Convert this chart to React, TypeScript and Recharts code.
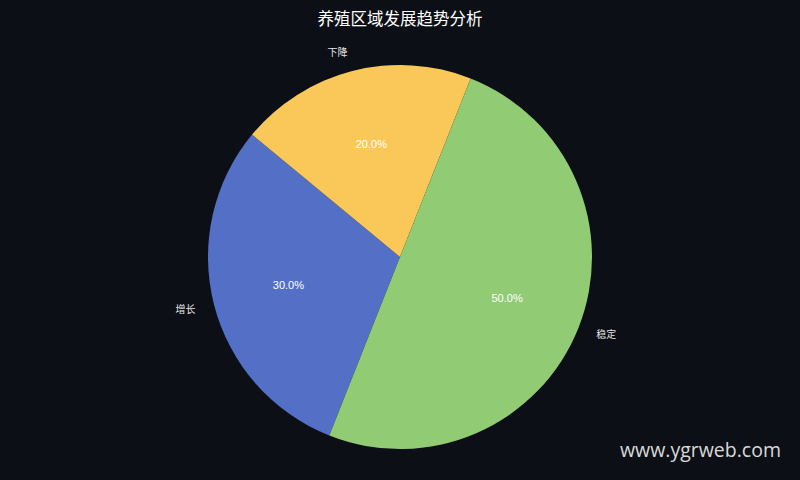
import { PieChart, Pie, Cell } from 'recharts';

const categories = ['增长', '下降', '稳定'];
const shares = [30, 20, 50];
const colors = ['#5470c6', '#fac858', '#91cc75'];

const data = categories.map((name, i) => ({ name, value: shares[i] }));

const RADIAN = Math.PI / 180;

const renderLabel = (props: any) => {
  const { cx, cy, midAngle, outerRadius, percent, name } = props;
  const cos = Math.cos(-midAngle * RADIAN);
  const sin = Math.sin(-midAngle * RADIAN);
  const ox = cx + outerRadius * 1.1 * cos;
  const oy = cy + outerRadius * 1.1 * sin;
  const ix = cx + outerRadius * 0.6 * cos;
  const iy = cy + outerRadius * 0.6 * sin;
  return (
    <g>
      <text
        x={ox}
        y={oy - 1}
        fill="#e6e6e6"
        fontSize={10}
        fontFamily="Noto Sans CJK SC"
        textAnchor={ox > cx ? 'start' : 'end'}
        dominantBaseline="central"
      >
        {name}
      </text>
      <text
        x={ix}
        y={iy - 1}
        fill="#ffffff"
        fontSize={11}
        fontFamily="Liberation Sans"
        textAnchor="middle"
        dominantBaseline="central"
      >
        {(percent * 100).toFixed(1)}%
      </text>
    </g>
  );
};

export default function App() {
  return (
    <div style={{ width: 800, height: 480, background: '#0c0f15', position: 'relative' }}>
      <style>{'body{margin:0}'}</style>
      <PieChart width={800} height={480} margin={{ top: 0, right: 0, bottom: 0, left: 0 }}>
        <text
          x={400}
          y={18}
          fill="#ffffff"
          fontSize={16.5}
          fontFamily="Noto Sans CJK SC"
          textAnchor="middle"
          dominantBaseline="central"
        >
          养殖区域发展趋势分析
        </text>
        <Pie
          data={data}
          dataKey="value"
          nameKey="name"
          cx={400}
          cy={257}
          outerRadius={192}
          startAngle={248.4}
          endAngle={-111.6}
          stroke="none"
          labelLine={false}
          label={renderLabel}
          isAnimationActive={false}
        >
          {data.map((d, i) => (
            <Cell key={d.name} fill={colors[i]} />
          ))}
        </Pie>
        <text
          x={781}
          y={449}
          fill="#d9d9d9"
          fontSize={19.5}
          fontFamily="Open Sans"
          textAnchor="end"
          dominantBaseline="central"
        >
          www.ygrweb.com
        </text>
      </PieChart>
    </div>
  );
}
